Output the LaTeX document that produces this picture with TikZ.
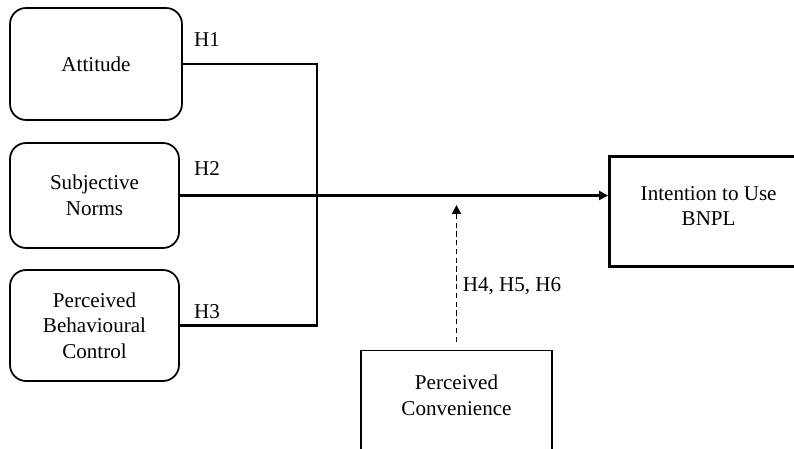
\documentclass[tikz,border=0pt]{standalone}
\usepackage{fontspec}
\setmainfont{Liberation Serif}
\usetikzlibrary{arrows.meta,positioning}

\begin{document}
\begin{tikzpicture}[x=0.02cm, y=-0.02cm,
  every node/.style={font=\fontsize{12}{14.5}\selectfont},
  factor/.style={draw, rounded corners=0.32cm, line width=1pt, align=center},
  link/.style={line width=1.4pt}]
\clip (0,0) rectangle (794,449);
\node[factor, minimum width=3.44cm, minimum height=2.24cm] (att) at (96,64) {Attitude};
\node[factor, minimum width=3.38cm, minimum height=2.1cm] (sn) at (94.5,195.5) {Subjective\\Norms};
\node[factor, minimum width=3.38cm, minimum height=2.22cm] (pbc) at (94.5,325.5) {Perceived\\Behavioural\\Control};
\node[draw, line width=1.9pt, align=center, anchor=north west, minimum width=3.96cm, inner ysep=17pt] (int) at (608,155) {Intention to Use\\BNPL\rule[-6pt]{0pt}{0pt}};
\node[draw, line width=0.8pt, align=center, anchor=north, minimum width=3.82cm, inner ysep=14pt] (pc) at (456.5,350) {Perceived\\Convenience\rule[-60pt]{0pt}{0pt}};
\coordinate (jn) at (317,197);
\draw[link] (att.east) -| (jn) |- (pbc.east);
\draw[link, -{Triangle[length=5pt,width=5pt]}] (sn.east) -- (sn.east -| int.west);
\draw[line width=1.1pt, dash pattern=on 3pt off 2pt, -{Triangle[length=5pt,width=5pt]}, shorten <=0.16cm, shorten >=0.16cm] (pc.north) -- (pc.north |- jn);
\node (h1) at (207,40) {H1};
\node (h2) at (207,169) {H2};
\node (h3) at (207,312) {H3};
\node (h456) at (512,286) {H4, H5, H6};
\end{tikzpicture}
\end{document}
